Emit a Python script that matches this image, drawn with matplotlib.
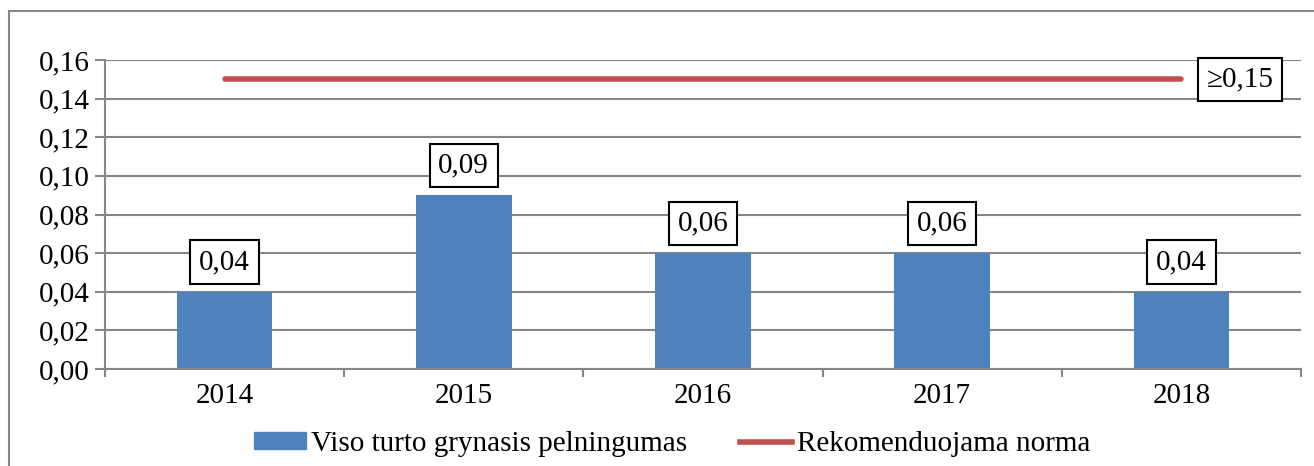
import matplotlib
matplotlib.use("Agg")
import matplotlib.pyplot as plt
from matplotlib.patches import Rectangle
from matplotlib.lines import Line2D
from matplotlib.ticker import FuncFormatter, MultipleLocator

years = ["2014", "2015", "2016", "2017", "2018"]
values = [0.04, 0.09, 0.06, 0.06, 0.04]
norm = [0.15, 0.15, 0.15, 0.15, 0.15]
norm_label = "≥0,15"
bar_name = "Viso turto grynasis pelningumas"
line_name = "Rekomenduojama norma"

plt.rcParams['font.family'] = ['Liberation Serif', 'DejaVu Serif']
W, H = 1314, 466
fig = plt.figure(figsize=(W / 100, H / 100), dpi=100)
ax = fig.add_axes([105 / W, 1 - 369 / H, (1301 - 105) / W, (369 - 60) / H])

x = list(range(len(years)))
ax.bar(x, values, width=0.4, color="#4F81BD", zorder=2)
ax.plot(x, norm, color="#C0504D", lw=4, solid_capstyle="round", zorder=3)

ax.set_xlim(-0.5, len(years) - 0.5)
ax.set_ylim(0, 0.16)
ax.yaxis.set_major_locator(MultipleLocator(0.02))
ax.yaxis.set_major_formatter(FuncFormatter(lambda v, p: f"{v:.2f}".replace(".", ",")))
ax.set_xticks(x)
ax.set_xticklabels(years)
ax.set_xticks([i + 0.5 for i in range(-1, len(years))], minor=True)
ax.tick_params(axis="x", which="major", length=0, labelsize=21, pad=10)
ax.tick_params(axis="x", which="minor", length=6, color="#868686", width=1.5)
ax.tick_params(axis="y", length=7, color="#868686", width=1.5, labelsize=21, pad=4)
ax.grid(axis="y", color="#868686", lw=1.5, zorder=0)
ax.set_axisbelow(True)
for s in ["top", "right"]:
    ax.spines[s].set_visible(False)
for s in ["left", "bottom"]:
    ax.spines[s].set_color("#868686")
    ax.spines[s].set_linewidth(1.5)

box = dict(boxstyle="square,pad=0.3", fc="white", ec="black", lw=1.5)
for xi, v in zip(x, values):
    ax.annotate(f"{v:.2f}".replace(".", ","), (xi, v), xytext=(0, 12),
                textcoords="offset points", ha="center", va="bottom",
                fontsize=21, bbox=box, zorder=4)
ax.annotate(norm_label, (x[-1], norm[-1]), xytext=(18, 0), textcoords="offset points",
            ha="left", va="center", fontsize=21, bbox=box, zorder=4)

handles = [Rectangle((0, 0), 1, 1, color="#4F81BD"),
           Line2D([0], [0], color="#C0504D", lw=4)]
fig.legend(handles, [bar_name, line_name], loc="center", bbox_to_anchor=(672 / W, 1 - 444 / H),
           ncol=2, frameon=False, fontsize=21, handlelength=1.8, handleheight=0.5,
           handletextpad=0.17, columnspacing=1.8, borderaxespad=0, borderpad=0)

fig.patches.append(Rectangle((9 / W, -0.1), 1.2, 1 - 11 / H + 0.1, transform=fig.transFigure,
                             fill=False, ec="#868686", lw=1.5))
fig.savefig("out.png", dpi=100)
